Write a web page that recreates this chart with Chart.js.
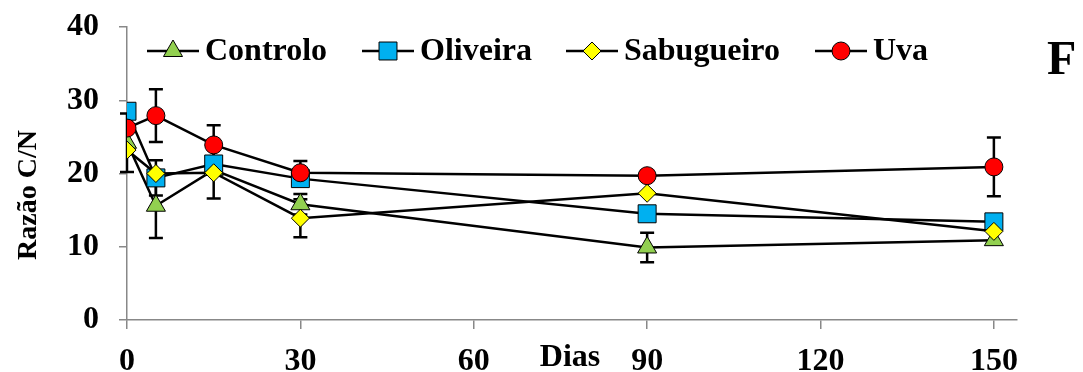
<!DOCTYPE html>
<html>
<head>
<meta charset="utf-8">
<script src="https://cdn.jsdelivr.net/npm/chart.js@4/dist/chart.umd.min.js"></script>
<style>
  body { margin: 0; background: #fff; }
  canvas { display: block; }
</style>
</head>
<body>
<canvas id="myChart" width="1083" height="372"></canvas>
<script>
// days of composting
let dias = [0, 5, 15, 30, 90, 150];

let controlo = [24.2, 15.6, 20.5, 15.8, 9.9, 10.9];
let controloErr = [4.0, 4.4, 0, 1.4, 2.0, 0];
let oliveira = [28.5, 19.4, 21.3, 19.3, 14.5, 13.4];
let oliveiraErr = [0, 2.4, 0, 0, 0, 0];
let sabugueiro = [23.2, 20.0, 20.1, 13.9, 17.3, 12.1];
let sabugueiroErr = [0, 0, 3.5, 2.6, 0, 0];
let uva = [26.2, 27.9, 23.9, 20.1, 19.7, 20.9];
let uvaErr = [0, 3.6, 2.7, 1.6, 0, 4.0];

let xTicks = [0, 30, 60, 90, 120, 150];
let yTicks = [0, 10, 20, 30, 40];

const serif = '"Liberation Serif", "Times New Roman", serif';

const toPoints = (vals) => vals.map((v, i) => ({ x: dias[i], y: v }));

function makeSet(label, vals, errs, color, style, radius, order) {
	return {
		label: label,
		data: toPoints(vals),
		errors: errs,
		borderColor: '#000',
		borderWidth: 2.5,
		backgroundColor: color,
		pointStyle: style,
		pointRadius: radius,
		pointHoverRadius: radius,
		pointBackgroundColor: color,
		pointBorderColor: '#000',
		pointBorderWidth: 1,
		tension: 0,
		order: order,
	};
}

// error bars, drawn under the markers
const errorBars = {
	id: 'errorBars',
	beforeDatasetsDraw(chart) {
		const ctx = chart.ctx;
		const ys = chart.scales.y;
		ctx.save();
		ctx.strokeStyle = '#000';
		ctx.lineWidth = 2.5;
		chart.data.datasets.forEach((ds, di) => {
			const meta = chart.getDatasetMeta(di);
			ds.errors.forEach((e, i) => {
				if (!e) return;
				const p = meta.data[i];
				const v = ds.data[i].y;
				const top = ys.getPixelForValue(v + e);
				const bot = ys.getPixelForValue(v - e);
				ctx.beginPath();
				ctx.moveTo(p.x, top);
				ctx.lineTo(p.x, bot);
				ctx.moveTo(p.x - 7, top);
				ctx.lineTo(p.x + 7, top);
				ctx.moveTo(p.x - 7, bot);
				ctx.lineTo(p.x + 7, bot);
				ctx.stroke();
			});
		});
		ctx.restore();
	},
};

// legend with line + marker, the "F" tag, axis titles
const extras = {
	id: 'extras',
	afterDraw(chart) {
		const ctx = chart.ctx;
		const legendPos = [173, 388, 592, 841];
		ctx.save();
		chart.data.datasets.forEach((ds, k) => {
			const cx = legendPos[k];
			const cy = 51;
			ctx.strokeStyle = '#000';
			ctx.lineWidth = 2.5;
			ctx.beginPath();
			ctx.moveTo(cx - 26, cy);
			ctx.lineTo(cx + 26, cy);
			ctx.stroke();
			ctx.fillStyle = ds.pointBackgroundColor;
			ctx.strokeStyle = '#000';
			ctx.lineWidth = 1;
			Chart.helpers.drawPoint(ctx, {
				pointStyle: ds.pointStyle,
				radius: ds.pointRadius,
				rotation: 0,
				borderWidth: 1,
			}, cx, cy);
			ctx.fillStyle = '#000';
			ctx.font = 'bold 32px ' + serif;
			ctx.textAlign = 'left';
			ctx.textBaseline = 'middle';
			ctx.fillText(ds.label, cx + 32, cy + 1);
		});

		ctx.font = 'bold 48px ' + serif;
		ctx.textAlign = 'left';
		ctx.textBaseline = 'alphabetic';
		ctx.fillText('F', 1047, 74);

		ctx.font = 'bold 32px ' + serif;
		ctx.textAlign = 'center';
		ctx.fillText('Dias', 570, 366);

		ctx.translate(29, 195);
		ctx.rotate(-Math.PI / 2);
		ctx.font = 'bold 28px ' + serif;
		ctx.textBaseline = 'middle';
		ctx.fillText('Razão C/N', 0, 0);
		ctx.restore();
	},
};

const ctx = document.getElementById('myChart');
const myChart = new Chart(ctx, {
	type: 'line',
	data: {
		datasets: [
			makeSet('Controlo', controlo, controloErr, '#92D050', 'triangle', 11, 4),
			makeSet('Oliveira', oliveira, oliveiraErr, '#00B0F0', 'rect', 12.7, 3),
			makeSet('Sabugueiro', sabugueiro, sabugueiroErr, '#FFFF00', 'rectRot', 9, 2),
			makeSet('Uva', uva, uvaErr, '#FF0000', 'circle', 9, 1),
		],
	},
	options: {
		responsive: false,
		animation: false,
		events: [],
		layout: { padding: { top: 27, right: 66, left: 0, bottom: 0 } },
		plugins: {
			legend: { display: false },
			tooltip: { enabled: false },
		},
		scales: {
			x: {
				type: 'linear',
				min: 0,
				max: 154,
				afterFit: (s) => {
					s.height = 52;
					s.paddingLeft = 0;
					s.paddingRight = 0;
				},
				afterBuildTicks: (s) => { s.ticks = xTicks.map((v) => ({ value: v })); },
				grid: {
					drawOnChartArea: false,
					tickLength: 9,
					color: '#888',
					lineWidth: 1.5,
				},
				border: { color: '#888', width: 1.5 },
				ticks: {
					color: '#000',
					padding: 14,
					font: { family: serif, size: 32, weight: 'bold' },
				},
			},
			y: {
				min: 0,
				max: 40,
				afterFit: (s) => {
					s.width = 127;
					s.paddingTop = 0;
					s.paddingBottom = 0;
				},
				afterBuildTicks: (s) => { s.ticks = yTicks.map((v) => ({ value: v })); },
				grid: {
					drawOnChartArea: false,
					tickLength: 8,
					color: '#888',
					lineWidth: 1.5,
				},
				border: { color: '#888', width: 1.5 },
				ticks: {
					color: '#000',
					padding: 20,
					font: { family: serif, size: 32, weight: 'bold' },
				},
			},
		},
	},
	plugins: [errorBars, extras],
});
</script>
</body>
</html>
